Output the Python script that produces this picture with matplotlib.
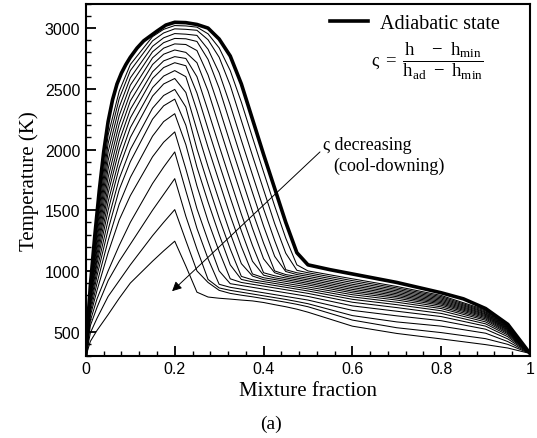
import numpy as np
import matplotlib.pyplot as plt
from matplotlib.ticker import MultipleLocator

plt.rcParams['font.family'] = ['Liberation Serif', 'DejaVu Serif']
plt.rcParams['mathtext.fontset'] = 'custom'
plt.rcParams['mathtext.rm'] = 'Liberation Serif'
plt.rcParams['mathtext.it'] = 'Liberation Serif'
plt.rcParams['mathtext.bf'] = 'Liberation Serif:bold'

# --- adiabatic curve
z_ad = [0, 0.005, 0.01, 0.02, 0.03, 0.04, 0.05, 0.06, 0.07, 0.08, 0.09, 0.1, 0.115,
        0.13, 0.16, 0.18, 0.2, 0.225, 0.25, 0.275, 0.3, 0.325, 0.35, 0.375, 0.4,
        0.425, 0.45, 0.475, 0.5, 0.55, 0.6, 0.7, 0.8, 0.85, 0.9, 0.95, 1.0]
t_ad = [300, 620, 880, 1290, 1660, 1980, 2230, 2410, 2540, 2630, 2700, 2760, 2835,
        2895, 2975, 3025, 3048, 3045, 3030, 3000, 2910, 2770, 2540, 2250, 1960,
        1680, 1400, 1150, 1050, 1010, 975, 905, 820, 770, 690, 560, 320]

# --- non-adiabatic curves (highest -> lowest)
z_grid = [0, 0.01, 0.025, 0.05, 0.075, 0.1, 0.15, 0.175, 0.2,
          0.225, 0.25, 0.275, 0.3, 0.325, 0.35, 0.375, 0.4, 0.425, 0.45, 0.475,
          0.5, 0.6, 0.7, 0.8, 0.9, 0.95, 1.0]
t_c01 = [300, 920, 1420, 2120, 2480, 2700, 2930, 2990, 3021,
         3018, 3008, 2953, 2837, 2650, 2390, 2100, 1815, 1535, 1270, 1050,
         1000, 935, 872, 798, 678, 550, 320]
t_c02 = [300, 900, 1380, 2050, 2420, 2650, 2895, 2960, 2994,
         2990, 2982, 2904, 2760, 2528, 2238, 1949, 1669, 1390, 1146, 1005,
         985, 920, 860, 788, 670, 545, 320]
t_c03 = [300, 880, 1340, 1980, 2350, 2590, 2850, 2920, 2955,
         2950, 2940, 2826, 2632, 2366, 2076, 1792, 1512, 1250, 1010, 985,
         970, 905, 848, 778, 662, 540, 320]
t_c04 = [300, 860, 1300, 1910, 2280, 2530, 2805, 2880, 2915,
         2912, 2890, 2742, 2505, 2215, 1926, 1646, 1370, 1120, 995, 970,
         955, 890, 836, 768, 655, 535, 320]
t_c05 = [300, 840, 1260, 1840, 2210, 2465, 2755, 2835, 2870,
         2865, 2815, 2614, 2343, 2053, 1770, 1490, 1230, 1000, 970, 955,
         940, 876, 824, 758, 647, 530, 320]
t_c06 = [300, 820, 1220, 1770, 2140, 2400, 2700, 2785, 2820,
         2800, 2715, 2482, 2192, 1904, 1624, 1350, 1100, 985, 956, 941,
         926, 862, 812, 748, 640, 525, 320]
t_c07 = [300, 800, 1180, 1700, 2070, 2330, 2640, 2730, 2765,
         2750, 2600, 2320, 2030, 1747, 1467, 1210, 985, 960, 942, 927,
         912, 848, 800, 738, 632, 520, 320]
t_c08 = [300, 780, 1140, 1640, 2000, 2260, 2585, 2675, 2715,
         2690, 2465, 2169, 1882, 1602, 1330, 1080, 965, 943, 928, 913,
         898, 834, 788, 728, 624, 514, 320]
t_c09 = [300, 760, 1100, 1570, 1920, 2180, 2510, 2605, 2650,
         2600, 2320, 2018, 1736, 1456, 1200, 975, 944, 929, 914, 899,
         884, 820, 775, 717, 615, 508, 320]
t_c10 = [300, 740, 1060, 1500, 1850, 2100, 2440, 2540, 2585,
         2470, 2160, 1860, 1580, 1310, 1060, 958, 928, 913, 898, 883,
         868, 804, 760, 704, 605, 500, 320]
t_c11 = [300, 715, 1010, 1420, 1760, 2000, 2340, 2445, 2495,
         2350, 2005, 1714, 1434, 1180, 955, 927, 912, 897, 882, 867,
         852, 786, 742, 690, 594, 492, 320]
t_c12 = [300, 690, 960, 1340, 1670, 1900, 2250, 2360, 2415,
         2200, 1855, 1568, 1300, 1050, 930, 910, 895, 880, 865, 850,
         835, 766, 722, 672, 580, 483, 320]
t_c13 = [300, 660, 900, 1250, 1550, 1770, 2110, 2230, 2295,
         2040, 1700, 1411, 1160, 935, 905, 890, 875, 860, 845, 830,
         815, 742, 698, 650, 564, 472, 320]
t_c14 = [300, 630, 840, 1150, 1420, 1620, 1940, 2060, 2145,
         1840, 1512, 1250, 1000, 895, 880, 865, 850, 835, 820, 805,
         790, 712, 668, 624, 545, 458, 320]
t_c15 = [300, 590, 770, 1000, 1210, 1400, 1720, 1855, 1980,
         1660, 1350, 1100, 890, 865, 850, 835, 820, 805, 790, 775,
         760, 675, 630, 590, 520, 440, 320]
t_c16 = [300, 550, 700, 920, 1080, 1220, 1500, 1630, 1760,
         1450, 1180, 930, 860, 840, 825, 810, 795, 780, 765, 748,
         730, 632, 580, 545, 487, 418, 320]
t_c17 = [300, 490, 610, 790, 920, 1050, 1290, 1400, 1505,
         1250, 1000, 905, 840, 815, 800, 787, 772, 758, 742, 725,
         705, 595, 532, 492, 442, 395, 320]
t_c18 = [300, 420, 510, 640, 775, 900, 1080, 1165, 1245,
         1040, 825, 785, 775, 768, 760, 753, 740, 722, 705, 685,
         660, 545, 485, 440, 393, 365, 320]

thin_curves = [t_c01, t_c02, t_c03, t_c04, t_c05, t_c06, t_c07, t_c08, t_c09,
               t_c10, t_c11, t_c12, t_c13, t_c14, t_c15, t_c16, t_c17, t_c18]

x_ticks = [0, 0.2, 0.4, 0.6, 0.8, 1.0]
x_tick_labels = ['0', '0.2', '0.4', '0.6', '0.8', '1']
y_ticks = [500, 1000, 1500, 2000, 2500, 3000]

fig = plt.figure(figsize=(5.37, 4.39), dpi=100)
ax = fig.add_axes([0.160, 0.187, 0.827, 0.802])

for t in thin_curves:
    ax.plot(z_grid, t, color='black', lw=0.75)
ax.plot(z_ad, t_ad, color='black', lw=2.6, label='Adiabatic state')

ax.set_xlim(0, 1)
ax.set_ylim(300, 3200)
ax.set_xticks(x_ticks)
ax.set_xticklabels(x_tick_labels)
ax.set_yticks(y_ticks)
ax.xaxis.set_minor_locator(MultipleLocator(0.04))
ax.yaxis.set_minor_locator(MultipleLocator(100))
ax.tick_params(which='both', direction='in', top=False, right=False)
ax.tick_params(which='major', length=7, width=1.3, labelsize=11.5, pad=4)
ax.tick_params(which='minor', length=3.5, width=1)
for lab in ax.get_xticklabels() + ax.get_yticklabels():
    lab.set_fontfamily('Liberation Sans')
for sp in ax.spines.values():
    sp.set_linewidth(1.5)

ax.set_xlabel('Mixture fraction', fontsize=15, labelpad=3)
ax.set_ylabel('Temperature (K)', fontsize=15, labelpad=4)

ax.legend(loc='upper right', bbox_to_anchor=(0.955, 1.0), frameon=False,
          fontsize=14.5, handlelength=1.9, handletextpad=0.6, borderaxespad=0.1)

ax.text(0.643, 0.838,
        r'$\varsigma\;=\;\dfrac{\mathrm{h}\ \ \ -\ \mathrm{h}_{\mathrm{min}}}'
        r'{\mathrm{h}_{\mathrm{ad}}\ -\ \mathrm{h}_{\mathrm{min}}}$',
        transform=ax.transAxes, fontsize=13.5, ha='left', va='center')

ax.annotate('', xy=(0.194, 833), xytext=(0.527, 1980),
            arrowprops=dict(arrowstyle='-|>', color='black', lw=0.7,
                            mutation_scale=14, shrinkA=0, shrinkB=0))
ax.text(0.534, 2038, 'ς decreasing', fontsize=13, ha='left', va='center')
ax.text(0.556, 1866, '(cool-downing)', fontsize=13, ha='left', va='center')

fig.text(0.505, 0.034, '(a)', fontsize=14, ha='center', va='center')

fig.savefig('out.png', dpi=100)
